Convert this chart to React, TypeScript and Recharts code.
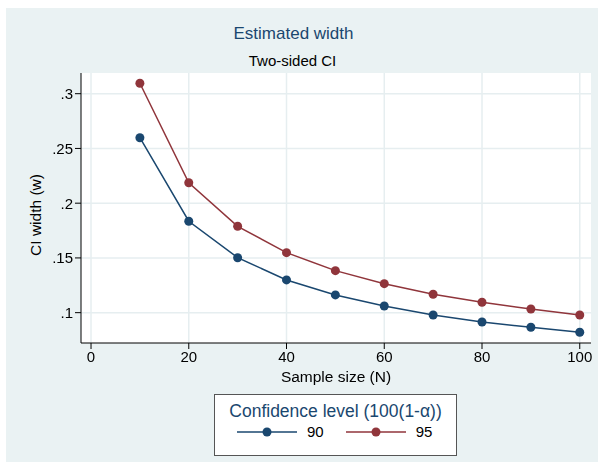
import React from 'react';
import { LineChart, Line, XAxis, YAxis, CartesianGrid } from 'recharts';

// values
const sampleSizes = [10, 20, 30, 40, 50, 60, 70, 80, 90, 100];
const width90 = [0.2598, 0.1835, 0.1502, 0.1299, 0.1162, 0.1061, 0.0979, 0.0915, 0.0867, 0.0821];
const width95 = [0.3095, 0.2187, 0.1789, 0.1548, 0.1384, 0.1265, 0.1168, 0.1095, 0.1034, 0.0979];
const xTicks = [0, 20, 40, 60, 80, 100];
const yTicks = [0.1, 0.15, 0.2, 0.25, 0.3];
const legendItems = [
  { key: '90', label: '90' },
  { key: '95', label: '95' },
];

const NAVY = '#1a476f';
const MAROON = '#90353b';
const BG = '#eaf2f3';
const FONT = '"Liberation Sans", Arial, sans-serif';

const data = sampleSizes.map((n, i) => ({ n, w90: width90[i], w95: width95[i] }));

const fmtY = (v: number) => String(v).replace(/^0/, '');

const LegendBox = () => (
  <div
    style={{
      position: 'absolute',
      left: 208,
      top: 386,
      width: 241,
      height: 60,
      background: '#fff',
      border: '1px solid #555',
      fontFamily: FONT,
      textAlign: 'center',
    }}
  >
    <div style={{ color: NAVY, fontSize: 17.5, marginTop: 6, lineHeight: '20px' }}>Confidence level (100(1-α))</div>
    <div style={{ display: 'flex', alignItems: 'center', marginTop: 2, marginLeft: 22 }}>
      {legendItems.map((it, i) => {
        const c = i === 0 ? NAVY : MAROON;
        return (
          <div key={it.key} style={{ display: 'flex', alignItems: 'center', marginRight: 22 }}>
            <svg width={60} height={14}>
              <line x1={0} y1={7} x2={60} y2={7} stroke={c} strokeWidth={1.5} />
              <circle cx={30} cy={7} r={4.5} fill={c} />
            </svg>
            <span style={{ fontSize: 15, color: '#000', marginLeft: 10, lineHeight: '18px' }}>{it.label}</span>
          </div>
        );
      })}
    </div>
  </div>
);

export default function App() {
  return (
    <div style={{ position: 'fixed', left: 6, top: 8, width: 592, height: 454, background: BG, fontFamily: FONT, overflow: 'visible' }}>
      <div style={{ position: 'absolute', left: 0, width: 575, top: 16, textAlign: 'center', color: NAVY, fontSize: 17, lineHeight: '20px' }}>
        Estimated width
      </div>
      <div style={{ position: 'absolute', left: 0, width: 573, top: 44, textAlign: 'center', color: '#000', fontSize: 15, lineHeight: '18px' }}>
        Two-sided CI
      </div>
      <div
        style={{
          position: 'absolute',
          left: 30,
          top: 207,
          transform: 'translate(-50%, -50%) rotate(-90deg)',
          whiteSpace: 'nowrap',
          fontSize: 15.5,
          lineHeight: '18px',
          color: '#000',
        }}
      >
        CI width (w)
      </div>
      <div style={{ position: 'absolute', left: 0, width: 660, top: 360, textAlign: 'center', fontSize: 15.5, lineHeight: '18px', color: '#000' }}>
        Sample size (N)
      </div>
      <LineChart
        width={592}
        height={454}
        data={data}
        margin={{ top: 65, right: 7, bottom: 89, left: 0 }}
        style={{ overflow: 'visible' }}
      >
        <CartesianGrid stroke="#e6eef0" strokeWidth={1.5} fill="#ffffff" horizontalValues={yTicks} verticalValues={xTicks} />
        <XAxis
          dataKey="n"
          type="number"
          domain={[-2.05, 102.3]}
          ticks={xTicks}
          allowDataOverflow
          height={30}
          tickSize={6}
          tickMargin={2}
          stroke="#000"
          tick={{ fill: '#000', fontSize: 15, fontFamily: FONT }}
          tickLine={{ stroke: '#000' }}
        />
        <YAxis
          type="number"
          domain={[0.0723, 0.3189]}
          ticks={yTicks}
          allowDataOverflow
          width={75}
          tickSize={6}
          tickMargin={2}
          tickFormatter={fmtY}
          stroke="#000"
          tick={{ fill: '#000', fontSize: 15, fontFamily: FONT }}
          tickLine={{ stroke: '#000' }}
        />
        <Line
          dataKey="w90"
          name="90"
          stroke={NAVY}
          strokeWidth={1.5}
          dot={{ r: 4.5, fill: NAVY, stroke: NAVY, strokeWidth: 0 }}
          isAnimationActive={false}
        />
        <Line
          dataKey="w95"
          name="95"
          stroke={MAROON}
          strokeWidth={1.5}
          dot={{ r: 4.5, fill: MAROON, stroke: MAROON, strokeWidth: 0 }}
          isAnimationActive={false}
        />
      </LineChart>
      <LegendBox />
    </div>
  );
}
